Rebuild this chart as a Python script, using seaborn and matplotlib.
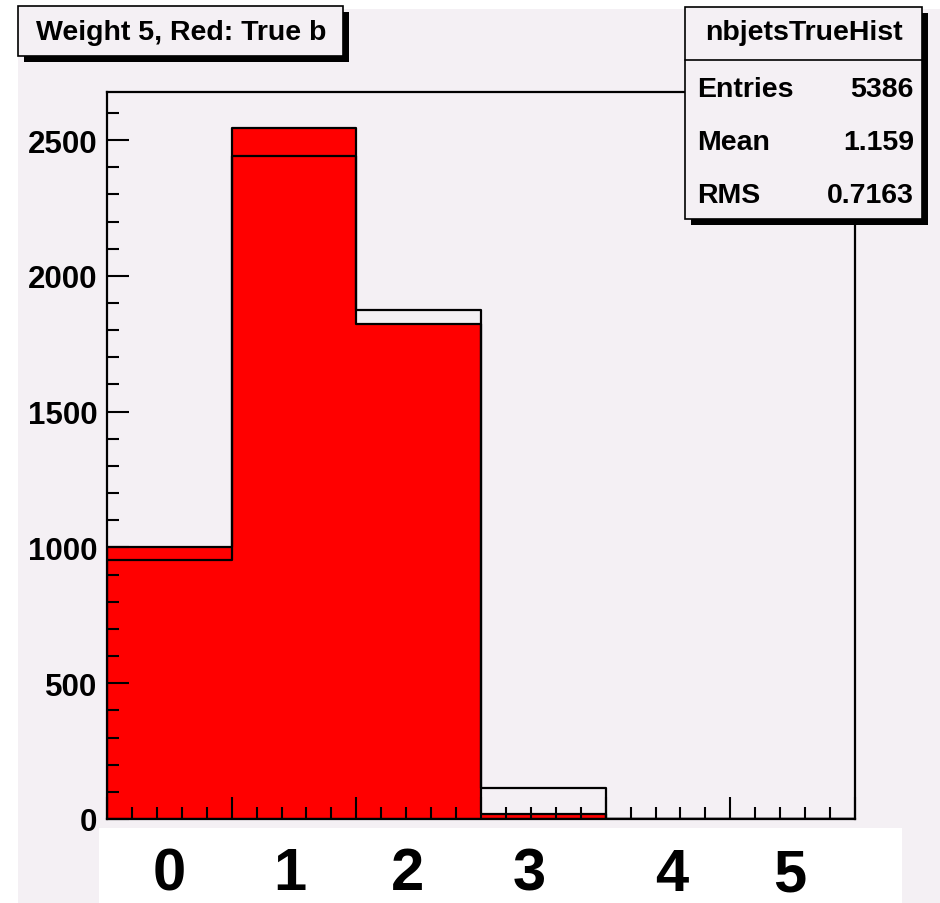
import numpy as np
import pandas as pd
import matplotlib
matplotlib.use("Agg")
import matplotlib.pyplot as plt
from matplotlib.patches import Rectangle
from matplotlib import font_manager
import seaborn as sns

# ---------------- data ----------------
nbjets = [0, 1, 2, 3, 4, 5]
true_b_counts = [1003, 2543, 1822, 18, 0, 0]     # red filled (nbjetsTrueHist)
all_counts = [954, 2441, 1874, 114, 0, 0]        # black outline
bin_edges = [0, 1, 2, 3, 4, 5, 6]
x_labels = ["0", "1", "2", "3", "4", "5"]
title_text = "Weight 5, Red: True b"
stats_name = "nbjetsTrueHist"
stats_rows = [("Entries", "5386"), ("Mean", "1.159"), ("RMS", "0.7163")]
y_ticks = [0, 500, 1000, 1500, 2000, 2500]

# ---------------- style ----------------
sns.set_style("ticks")
plt.rcParams["font.family"] = ["Liberation Sans", "DejaVu Sans"]
plt.rcParams["font.weight"] = "bold"
plt.rcParams["text.color"] = "black"
plt.rcParams["xtick.color"] = "black"
plt.rcParams["ytick.color"] = "black"

names = {f.name for f in font_manager.fontManager.ttflist}
narrow = "Liberation Sans Narrow" if "Liberation Sans Narrow" in names else "Liberation Sans"

W, H = 940, 904
BG = "#f4f0f4"
fig = plt.figure(figsize=(W / 100, H / 100), dpi=100, facecolor="white")

def fx(px):
    return px / W

def fy(py):
    return 1 - py / H

# pink canvas
fig.add_artist(Rectangle((fx(18), 0), 1 - fx(18), fy(10), transform=fig.transFigure,
                         facecolor=BG, edgecolor="none", zorder=0))

L, R, T, B = 107, 855, 93, 820
ax = fig.add_axes([fx(L), fy(B), fx(R - L), (B - T) / H])
ax.set_facecolor(BG)
ax.set_axisbelow(False)

df = pd.DataFrame({"nbjets": nbjets, "true_b": true_b_counts, "all": all_counts})
sns.histplot(data=df, x="nbjets", weights="true_b", bins=bin_edges, element="step",
             fill=True, color="red", alpha=1, edgecolor="black", linewidth=1.6, ax=ax)
sns.histplot(data=df, x="nbjets", weights="all", bins=bin_edges, element="step",
             fill=False, color="black", linewidth=1.6, ax=ax)

ax.set_xlim(0, 6)
ax.set_ylim(0, 2677)
ax.set_xlabel("")
ax.set_ylabel("")
ax.set_xticks(range(0, 7))
ax.set_xticks(np.arange(0, 6.01, 0.2), minor=True)
ax.set_yticks(y_ticks)
ax.set_yticks(np.arange(0, 2677, 100), minor=True)
ax.set_xticklabels([])
ax.set_yticklabels([str(v) for v in y_ticks], fontsize=22.5, fontweight="bold")
ax.tick_params(axis="both", which="major", direction="in", length=16, width=1.5, pad=7)
ax.tick_params(axis="both", which="minor", direction="in", length=8.5, width=1.5)
ax.tick_params(top=False, right=False)
for s in ax.spines.values():
    s.set_visible(True)
    s.set_linewidth(1.6)
    s.set_color("black")
    s.set_zorder(10)

# original x tick label "0", mostly hidden by the white box
fig.text(fx(L), fy(842), "0", ha="center", va="center", fontsize=22.5,
         fontweight="bold", zorder=4)

# white box with big x labels
fig.add_artist(Rectangle((fx(99), fy(904)), fx(902 - 99), (904 - 829) / H,
                         transform=fig.transFigure, facecolor="white", edgecolor="none", zorder=5))
label_pos = [0.5, 1.47, 2.41, 3.39, 4.53, 5.48]
label_y = [875, 875, 875, 875, 876, 876]
for xp, yp, lab in zip(label_pos, label_y, x_labels):
    fig.text(fx(L + xp * (R - L) / 6), fy(yp), lab, ha="center", va="center",
             fontsize=43, fontweight="bold", family=[narrow, "DejaVu Sans"], zorder=6)

# boxes with shadow
def box(x0, y0, x1, y1, sh=6):
    fig.add_artist(Rectangle((fx(x0 + sh), fy(y1 + sh)), fx(x1 - x0), (y1 - y0) / H,
                             transform=fig.transFigure, facecolor="black", edgecolor="none", zorder=7))
    fig.add_artist(Rectangle((fx(x0), fy(y1)), fx(x1 - x0), (y1 - y0) / H,
                             transform=fig.transFigure, facecolor=BG, edgecolor="black",
                             linewidth=1.2, zorder=8))

box(18, 7, 343, 57)
fig.text(fx(181), fy(33), title_text, ha="center", va="center", fontsize=20.5,
         fontweight="bold", zorder=9)

# stats box
box(685, 8, 922, 220)
fig.add_artist(plt.Line2D([fx(685), fx(922)], [fy(61), fy(61)], transform=fig.transFigure,
                          color="black", linewidth=1.2, zorder=9))
fig.text(fx(804), fy(33), stats_name, ha="center", va="center", fontsize=20.5,
         fontweight="bold", zorder=9)
for i, (k, v) in enumerate(stats_rows):
    yy = 90 + i * 53
    fig.text(fx(697), fy(yy), k, ha="left", va="center", fontsize=20.5, fontweight="bold", zorder=9)
    fig.text(fx(914), fy(yy), v, ha="right", va="center", fontsize=20.5, fontweight="bold", zorder=9)

fig.savefig("out.png", dpi=100, facecolor="white")
